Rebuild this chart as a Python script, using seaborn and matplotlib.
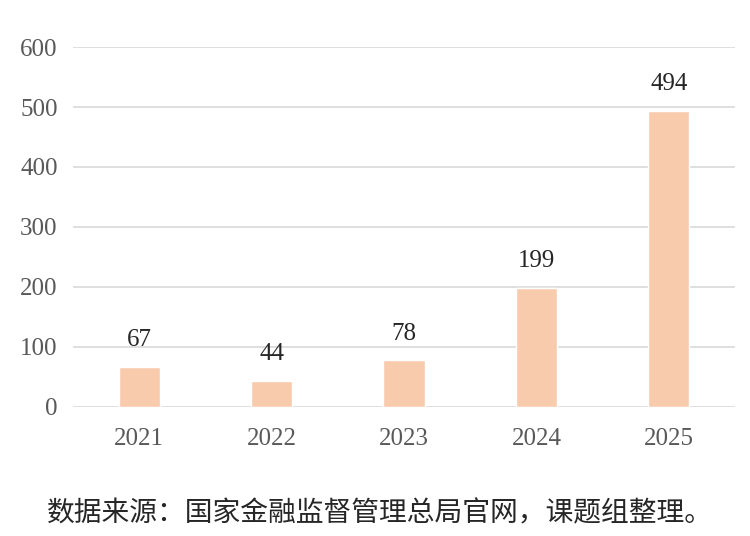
import pandas as pd
from matplotlib import pyplot as plt
import seaborn as sns

# values
years = ["2021", "2022", "2023", "2024", "2025"]
counts = [67, 44, 78, 199, 494]
yticks = [0, 100, 200, 300, 400, 500, 600]
source = "数据来源：国家金融监督管理总局官网，课题组整理。"

df = pd.DataFrame({"year": years, "count": counts})

sns.set_theme(style="white")
plt.rcParams["font.family"] = ["Liberation Serif", "Noto Sans CJK SC"]

fig = plt.figure(figsize=(7.5, 5.36), dpi=100)
ax = fig.add_axes([0.0973, 0.2407, 0.8827, 0.6716])

sns.barplot(data=df, x="year", y="count", color="#F8CBAD",
            saturation=1, width=0.31, ax=ax, zorder=3)

for i, v in enumerate(counts):
    ax.text(i, v + 26, str(v), ha="center", va="bottom",
            fontsize=18, color="#262626")

ax.set_ylim(0, 600)
ax.set_xlim(-0.5, 4.5)
ax.set_yticks(yticks)
ax.yaxis.grid(True, color="#D9D9D9", linewidth=1.2, zorder=0)
ax.set_axisbelow(True)
for s in ax.spines.values():
    s.set_visible(False)
ax.tick_params(axis="both", length=0, labelsize=18, labelcolor="#595959")
ax.tick_params(axis="y", pad=11)
ax.tick_params(axis="x", pad=15)
ax.set_xlabel("")
ax.set_ylabel("")

fig.text(0.507, 0.043, source, ha="center", va="center", fontsize=20,
         color="#262626", family=["Noto Sans CJK SC", "DejaVu Sans"])

fig.savefig("out.png", dpi=100)
